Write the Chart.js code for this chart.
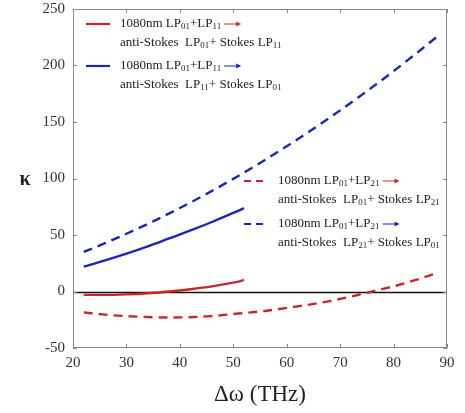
<!DOCTYPE html>
<html><head><meta charset="utf-8">
<script src="https://cdn.jsdelivr.net/npm/chart.js@4/dist/chart.umd.min.js"></script>
<style>html,body{margin:0;padding:0;background:#fff}#w{width:465px;height:413px}</style>
</head><body><div id="w"><canvas id="c" width="465" height="413"></canvas></div>
<script>
const xTicks = [20, 30, 40, 50, 60, 70, 80, 90];
const yTicks = [-50, 0, 50, 100, 150, 200, 250];
const xRed11 = [22, 26, 30, 34, 38, 42, 46, 50, 52];
const red11 = [-3, -3, -2.5, -1.5, 0, 2, 4.5, 7.8, 10];
const xBlue11 = [22, 26, 30, 34, 38, 42, 46, 50, 52];
const blue11 = [22, 27.5, 33.5, 40, 47, 54, 61.5, 69.5, 73.7];
const xRed21 = [22, 26, 30, 34, 38, 45, 51, 56, 60, 64, 68, 72, 76, 80, 84, 88];
const red21 = [-18.5, -20.5, -21.8, -22.6, -23, -22, -19.5, -17.2, -14.5, -11.8, -8.5, -4.5, 0, 4.6, 10, 16];
const xBlue21 = [22, 26, 30, 35, 40, 45, 50, 55, 60, 65, 70, 75, 80, 84, 88];
const blue21 = [35, 42.8, 51.1, 62.1, 73.9, 86.4, 99.7, 113.7, 128.5, 144, 160.3, 177.3, 195, 209.8, 225];

const RED = '#c8262c', BLUE = '#1a27b5';
const serif = '"Liberation Serif", "DejaVu Serif", serif';
const pts = (xs, ys) => xs.map((x, i) => ({x, y: ys[i]}));
const DASH = [9, 6];

const legendItems = [
  {color: RED, dash: [], x: 86, y: 24, l1: [['1080nm LP'], ['01', 1], ['+LP'], ['11', 1]], l2: [['anti-Stokes  LP'], ['01', 1], ['+ Stokes LP'], ['11', 1]]},
  {color: BLUE, dash: [], x: 86, y: 66, l1: [['1080nm LP'], ['01', 1], ['+LP'], ['11', 1]], l2: [['anti-Stokes  LP'], ['11', 1], ['+ Stokes LP'], ['01', 1]]},
  {color: RED, dash: [7, 5], x: 244, y: 181, l1: [['1080nm LP'], ['01', 1], ['+LP'], ['21', 1]], l2: [['anti-Stokes  LP'], ['01', 1], ['+ Stokes LP'], ['21', 1]]},
  {color: BLUE, dash: [7, 5], x: 244, y: 224, l1: [['1080nm LP'], ['01', 1], ['+LP'], ['21', 1]], l2: [['anti-Stokes  LP'], ['21', 1], ['+ Stokes LP'], ['01', 1]]}
];

function drawRich(ctx, parts, x, y) {
  for (const [t, sub] of parts) {
    ctx.font = sub ? '9px ' + serif : '13px ' + serif;
    ctx.fillText(t, x, sub ? y + 3 : y);
    x += ctx.measureText(t).width;
  }
  return x;
}

const deco = {
  id: 'deco',
  beforeDatasetsDraw(chart) {
    const {ctx, chartArea: a, scales: {x, y}} = chart;
    ctx.save();
    ctx.strokeStyle = '#111'; ctx.lineWidth = 1.5;
    const y0 = Math.round(y.getPixelForValue(0)) + 0.5;
    ctx.beginPath(); ctx.moveTo(a.left, y0); ctx.lineTo(a.right, y0); ctx.stroke();
    ctx.restore();
  },
  afterDatasetsDraw(chart) {
    const {ctx, chartArea: a, scales: {x, y}} = chart;
    ctx.save();
    ctx.strokeStyle = '#888'; ctx.lineWidth = 1;
    ctx.strokeRect(a.left + 0.5, a.top + 0.5, a.right - a.left - 1, a.bottom - a.top - 1);
    ctx.beginPath();
    for (const v of xTicks) {
      const px = Math.round(x.getPixelForValue(v)) + 0.5;
      ctx.moveTo(px, a.bottom); ctx.lineTo(px, a.bottom - 4);
      ctx.moveTo(px, a.top); ctx.lineTo(px, a.top + 4);
    }
    for (const v of yTicks) {
      const py = Math.round(y.getPixelForValue(v)) + 0.5;
      ctx.moveTo(a.left, py); ctx.lineTo(a.left + 4, py);
      ctx.moveTo(a.right, py); ctx.lineTo(a.right - 4, py);
    }
    ctx.stroke();
    ctx.fillStyle = '#222';
    ctx.font = 'bold 20px ' + serif;
    ctx.textAlign = 'center'; ctx.textBaseline = 'middle';
    ctx.fillText('κ', 25, 180);
    ctx.textAlign = 'left'; ctx.textBaseline = 'middle';
    for (const it of legendItems) {
      ctx.strokeStyle = it.color; ctx.lineWidth = 2.2; ctx.setLineDash(it.dash);
      ctx.beginPath(); ctx.moveTo(it.x, it.y); ctx.lineTo(it.x + 24, it.y); ctx.stroke();
      ctx.setLineDash([]);
      ctx.fillStyle = '#222';
      const tx = it.x + 34;
      const ex = drawRich(ctx, it.l1, tx, it.y);
      ctx.strokeStyle = it.color; ctx.fillStyle = it.color; ctx.lineWidth = 1;
      const ax0 = ex + 3, ax1 = ex + 20;
      ctx.beginPath(); ctx.moveTo(ax0, it.y); ctx.lineTo(ax1 - 4, it.y); ctx.stroke();
      ctx.beginPath(); ctx.moveTo(ax1, it.y); ctx.lineTo(ax1 - 5, it.y - 2.5); ctx.lineTo(ax1 - 5, it.y + 2.5); ctx.closePath(); ctx.fill();
      ctx.fillStyle = '#222';
      drawRich(ctx, it.l2, tx, it.y + 19);
    }
    ctx.restore();
  }
};

const ds = (xs, ys, color, dash) => ({data: pts(xs, ys), borderColor: color, borderWidth: 2.4, borderDash: dash, pointRadius: 0, cubicInterpolationMode: 'monotone', fill: false});

new Chart(document.getElementById('c'), {
  type: 'line',
  data: {
    datasets: [
      ds(xRed11, red11, RED, []),
      ds(xBlue11, blue11, BLUE, []),
      ds(xRed21, red21, RED, DASH),
      ds(xBlue21, blue21, BLUE, DASH)
    ]
  },
  options: {
    responsive: false, animation: false,
    layout: {padding: {top: 9, right: 18, left: 0, bottom: 0}},
    plugins: {legend: {display: false}, tooltip: {enabled: false}},
    scales: {
      x: {
        type: 'linear', min: 20, max: 90,
        afterBuildTicks: s => { s.ticks = xTicks.map(v => ({value: v})); },
        afterFit: s => { s.height = 65; s.paddingLeft = 0; s.paddingRight = 0; },
        grid: {display: false, drawTicks: false}, border: {display: false},
        ticks: {color: '#333', font: {family: serif, size: 15}, padding: 6, maxRotation: 0},
        title: {display: true, text: 'Δω (THz)', color: '#222', font: {family: serif, size: 23}, padding: {top: 6}}
      },
      y: {
        min: -50, max: 250,
        afterBuildTicks: s => { s.ticks = yTicks.map(v => ({value: v})); },
        afterFit: s => { s.width = 73; s.paddingTop = 0; s.paddingBottom = 0; },
        grid: {display: false, drawTicks: false}, border: {display: false},
        ticks: {color: '#333', font: {family: serif, size: 15}, padding: 8}
      }
    }
  },
  plugins: [deco]
});
</script></body></html>
